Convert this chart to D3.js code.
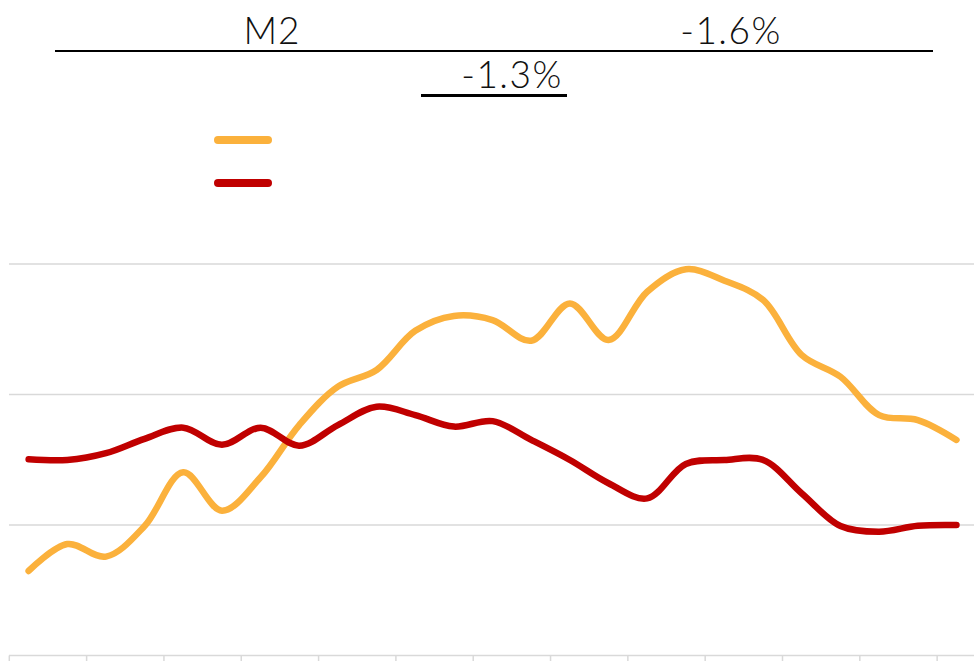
<!DOCTYPE html>
<html>
<head>
<meta charset="utf-8">
<script src="https://cdn.jsdelivr.net/npm/d3@7"></script>
<style>
  html, body { margin: 0; padding: 0; background: #fff; }
  svg { display: block; }
  text { font-family: "Lato", "Open Sans", sans-serif; font-weight: 300; }
</style>
</head>
<body>
<svg id="chart" width="974" height="661"></svg>
<script>
// ---- data ----
const periods = d3.range(25).map(i => "H" + (i + 1));          // 25 half-year periods
const seriesOrange = [-1.76, -0.73, -1.21, -0.04, 2.02, 0.55, 1.83, 3.83, 5.30, 5.94,
                      7.44, 8.01, 7.85, 7.06, 8.49, 7.09, 8.94, 9.80, 9.36, 8.62,
                      6.51, 5.68, 4.21, 4.02, 3.26];
const seriesRed    = [2.52, 2.49, 2.75, 3.30, 3.73, 3.07, 3.73, 3.04, 3.83, 4.53,
                      4.21, 3.77, 3.98, 3.26, 2.49, 1.60, 1.02, 2.34, 2.49, 2.49,
                      1.21, -0.04, -0.26, -0.03, 0.00];
const gridValues = [0, 5, 10];
const headLeft = "M2";
const headRight = "-1.6%";
const headSub = "-1.3%";

const colors = { orange: "#FBB13C", red: "#C00000", grid: "#D9D9D9" };

const svg = d3.select("#chart");

// ---- scales ----
const x = d3.scaleBand().domain(periods).range([9.3, 975.8]).paddingInner(0).paddingOuter(0);
const y = d3.scaleLinear().domain([-5, 10]).range([655.5, 264]);
const cx = d => x(d) + x.bandwidth() / 2;

// ---- gridlines ----
svg.append("g")
  .selectAll("line")
  .data(gridValues)
  .join("line")
  .attr("x1", 9).attr("x2", 974)
  .attr("y1", d => y(d)).attr("y2", d => y(d))
  .attr("stroke", colors.grid).attr("stroke-width", 1.5);

// ---- x axis ----
const tickPeriods = periods.filter((d, i) => i % 2 === 0);
const xAxis = d3.axisBottom(x)
  .tickValues(tickPeriods)
  .tickSize(6)
  .tickFormat("")
  .tickSizeOuter(0);
const gx = svg.append("g")
  .attr("transform", `translate(0,${y(-5)})`)
  .call(xAxis);
gx.select(".domain").attr("stroke", colors.grid).attr("stroke-width", 1.5).attr("d", "M9,0H974");
gx.selectAll(".tick").attr("transform", d => `translate(${x(d)},0)`);
gx.selectAll(".tick line").attr("stroke", colors.grid).attr("stroke-width", 1.5);

// ---- lines ----
const line = d3.line()
  .x((d, i) => cx(periods[i]))
  .y(d => y(d))
  .curve(d3.curveCatmullRom.alpha(0.5));

svg.append("path")
  .datum(seriesOrange)
  .attr("d", line)
  .attr("fill", "none")
  .attr("stroke", colors.orange)
  .attr("stroke-width", 6.5)
  .attr("stroke-linecap", "round")
  .attr("stroke-linejoin", "round");

svg.append("path")
  .datum(seriesRed)
  .attr("d", line)
  .attr("fill", "none")
  .attr("stroke", colors.red)
  .attr("stroke-width", 6.5)
  .attr("stroke-linecap", "round")
  .attr("stroke-linejoin", "round");

// ---- legend swatches ----
const legend = [colors.orange, colors.red];
svg.append("g")
  .selectAll("line")
  .data(legend)
  .join("line")
  .attr("x1", 218).attr("x2", 268)
  .attr("y1", (d, i) => 140 + i * 43).attr("y2", (d, i) => 140 + i * 43)
  .attr("stroke", d => d)
  .attr("stroke-width", 8)
  .attr("stroke-linecap", "round");

// ---- header ----
const hdr = svg.append("g");
hdr.append("text").attr("x", 272).attr("y", 43.5).attr("text-anchor", "middle")
  .attr("font-size", 37).attr("letter-spacing", 1).attr("fill", "#111").text(headLeft);
hdr.append("text").attr("x", 731).attr("y", 43.5).attr("text-anchor", "middle")
  .attr("font-size", 37).attr("letter-spacing", 1.5).attr("fill", "#111").text(headRight);
hdr.append("line").attr("x1", 55).attr("x2", 933).attr("y1", 51).attr("y2", 51)
  .attr("stroke", "#000").attr("stroke-width", 2);
hdr.append("text").attr("x", 512).attr("y", 87.5).attr("text-anchor", "middle")
  .attr("font-size", 37).attr("letter-spacing", 1.5).attr("fill", "#111").text(headSub);
hdr.append("line").attr("x1", 421).attr("x2", 567).attr("y1", 95.5).attr("y2", 95.5)
  .attr("stroke", "#000").attr("stroke-width", 3);
</script>
</body>
</html>
